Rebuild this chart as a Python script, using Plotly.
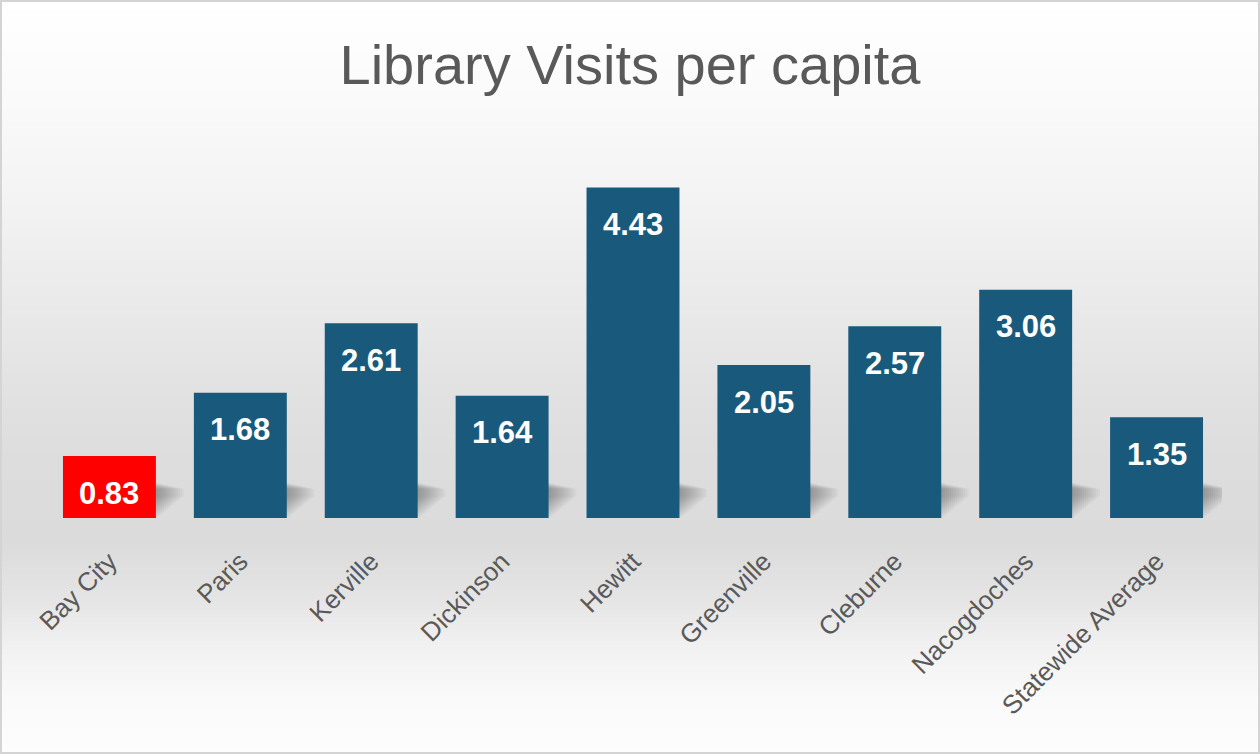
import base64
import struct
import zlib

import plotly.graph_objects as go

# ---- data -------------------------------------------------------------
cities = ["Bay City", "Paris", "Kerville", "Dickinson", "Hewitt",
          "Greenville", "Cleburne", "Nacogdoches", "Statewide Average"]
visits_per_capita = [0.83, 1.68, 2.61, 1.64, 4.43, 2.05, 2.57, 3.06, 1.35]
highlight_city = "Bay City"

# ---- styling ----------------------------------------------------------
W, H = 1260, 754
M_L, M_R, M_T, M_B = 44, 38, 145, 236
BAR_BLUE = "#195a7c"
HIGHLIGHT_RED = "#ff0000"
TEXT_GREY = "#595959"
BAR_WIDTH = 0.71
FONT = "Liberation Sans, Arial, sans-serif"

plot_w = W - M_L - M_R
plot_h = H - M_T - M_B
px_per_cat = plot_w / len(cities)

# soft drop-shadow behind each bar, built from thin translucent bands
# (bottom, top in axis units, reach to the right of the bar in px)
N_SHADOW = 14
SHADOW_BANDS = [(0.022 * i, 0.47 - 0.006 * i, 2.0 * (i + 1)) for i in range(N_SHADOW)]
SHADOW_ALPHA = 0.022


def grey_profile(y):
    """Vertical grey level of the chart background at pixel row y."""
    stops = [(0, 255), (100, 250), (200, 243), (300, 234), (400, 225),
             (460, 221), (540, 219), (600, 229), (650, 242), (700, 250),
             (754, 253)]
    for (y0, g0), (y1, g1) in zip(stops, stops[1:]):
        if y0 <= y <= y1:
            t = (y - y0) / (y1 - y0)
            return int(round(g0 + (g1 - g0) * t))
    return 255


def gradient_png(height):
    """1-pixel-wide greyscale PNG holding the background gradient."""
    raw = b"".join(b"\x00" + bytes([grey_profile(y)]) for y in range(height))

    def chunk(tag, data):
        c = tag + data
        return struct.pack(">I", len(data)) + c + struct.pack(">I", zlib.crc32(c) & 0xFFFFFFFF)

    png = b"\x89PNG\r\n\x1a\n"
    png += chunk(b"IHDR", struct.pack(">IIBBBBB", 1, height, 8, 0, 0, 0, 0))
    png += chunk(b"IDAT", zlib.compress(raw, 9))
    png += chunk(b"IEND", b"")
    return "data:image/png;base64," + base64.b64encode(png).decode()


# canvas corners expressed in paper coordinates
px0 = -M_L / plot_w
px1 = (W - M_L) / plot_w
py0 = -M_B / plot_h
py1 = (H - M_B) / plot_h

colors = [HIGHLIGHT_RED if c == highlight_city else BAR_BLUE for c in cities]

fig = go.Figure()

# shadow bands (drawn first so the bars sit on top of them)
for lo, hi, reach in SHADOW_BANDS:
    tops = [min(v, hi) for v in visits_per_capita]
    fig.add_trace(go.Bar(
        x=cities,
        y=[t - lo for t in tops],
        base=[lo] * len(cities),
        offset=0,
        width=BAR_WIDTH / 2 + reach / px_per_cat,
        marker=dict(color=f"rgba(0,0,0,{SHADOW_ALPHA})", line=dict(width=0)),
        hoverinfo="skip",
    ))

fig.add_trace(go.Bar(
    x=cities,
    y=visits_per_capita,
    marker=dict(color=colors, line=dict(width=0)),
    width=BAR_WIDTH,
    hoverinfo="x+y",
))

# value labels just inside the top of each bar
for c, v in zip(cities, visits_per_capita):
    fig.add_annotation(
        x=c, y=v, text=f"{v:.2f}", showarrow=False,
        yanchor="middle", yshift=-37,
        font=dict(family=FONT, size=31, color="white", weight="bold"),
    )

fig.update_layout(
    width=W, height=H,
    margin=dict(l=M_L, r=M_R, t=M_T, b=M_B),
    paper_bgcolor="white",
    plot_bgcolor="rgba(0,0,0,0)",
    showlegend=False,
    barmode="overlay",
    title=dict(
        text="Library Visits per capita",
        x=0.5, xanchor="center",
        y=1 - 64 / H, yanchor="middle",
        font=dict(family=FONT, size=56, color=TEXT_GREY),
    ),
    xaxis=dict(
        range=[-0.5, len(cities) - 0.5],
        tickangle=-45,
        tickfont=dict(family=FONT, size=26, color=TEXT_GREY),
        showline=False, showgrid=False, zeroline=False,
        ticks="", ticklabelstandoff=22,
    ),
    yaxis=dict(
        range=[0, 5], visible=False, showgrid=False, zeroline=False,
    ),
    images=[dict(
        source=gradient_png(H),
        xref="paper", yref="paper",
        x=px0, y=py1, sizex=px1 - px0, sizey=py1 - py0,
        xanchor="left", yanchor="top",
        sizing="stretch", layer="below",
    )],
    shapes=[dict(
        type="rect", xref="paper", yref="paper",
        x0=px0 + 1 / plot_w, x1=px1 - 1 / plot_w,
        y0=py0 + 1 / plot_h, y1=py1 - 1 / plot_h,
        line=dict(color="#d4d4d4", width=2), fillcolor="rgba(0,0,0,0)",
        layer="above",
    )],
)

fig.write_html("out.html")
